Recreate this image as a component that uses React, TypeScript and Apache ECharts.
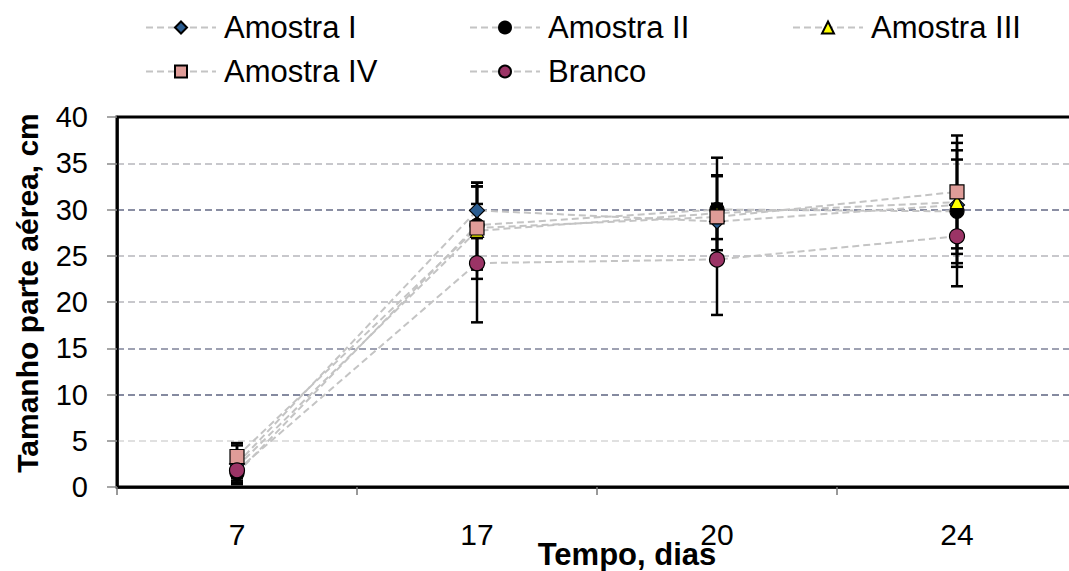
import React, { useEffect, useRef } from "react";
import * as echarts from "echarts";

const categories = ["7", "17", "20", "24"];
const seriesNames = ["Amostra I", "Amostra II", "Amostra III", "Amostra IV", "Branco"];
const amostraI = [2.5, 29.9, 28.7, 30.5];
const amostraII = [1.5, 28.3, 30.0, 29.8];
const amostraIII = [2.2, 27.7, 29.6, 30.8];
const amostraIV = [3.3, 28.0, 29.2, 31.9];
const branco = [1.8, 24.2, 24.6, 27.1];
const errI = [2.0, 3.0, 1.9, 6.7];
const errII = [1.2, 4.2, 5.6, 5.6];
const errIII = [1.5, 5.2, 4.0, 5.6];
const errIV = [1.45, 4.5, 4.5, 6.1];
const errBranco = [0.8, 6.4, 6.0, 5.4];
const yTicks = [0, 5, 10, 15, 20, 25, 30, 35, 40];

const FONT = "'Liberation Sans', Arial, sans-serif";

const values = [amostraI, amostraII, amostraIII, amostraIV, branco];
const errors = [errI, errII, errIII, errIV, errBranco];
const symbols = ["diamond", "circle", "triangle", "rect", "circle"];
const sizes = [15, 14, 13, 14, 15];
const fills = ["#2b5d91", "#000000", "#ffff00", "#df9c98", "#9b3466"];

export default function App() {
  const ref = useRef<HTMLDivElement>(null);
  useEffect(() => {
    if (!ref.current) return;
    const chart = echarts.init(ref.current, undefined, { renderer: "svg" });

    const errSeries = values.map((vals, si) => ({
      type: "custom",
      name: "err" + si,
      z: 1,
      silent: true,
      data: vals.map((v, i) => [i, v - errors[si][i], v + errors[si][i]]),
      encode: { x: 0, y: [1, 2] },
      renderItem: (params: any, api: any) => {
        const lo = api.coord([api.value(0), api.value(1)]);
        const hi = api.coord([api.value(0), api.value(2)]);
        const hw = 6;
        const st = { stroke: "#000", lineWidth: 2.5 };
        return {
          type: "group",
          children: [
            { type: "line", shape: { x1: lo[0], y1: lo[1], x2: hi[0], y2: hi[1] }, style: st },
            { type: "line", shape: { x1: hi[0] - hw, y1: hi[1], x2: hi[0] + hw, y2: hi[1] }, style: st },
            { type: "line", shape: { x1: lo[0] - hw, y1: lo[1], x2: lo[0] + hw, y2: lo[1] }, style: st },
          ],
        };
      },
    }));

    const lineSeries = values.map((vals, si) => ({
      type: "line",
      name: seriesNames[si],
      data: vals,
      z: 3,
      symbol: symbols[si],
      symbolSize: sizes[si],
      lineStyle: { color: "#c4c4c4", width: 2, type: [7, 4] },
      itemStyle: { color: fills[si], borderColor: "#000", borderWidth: 1.2 },
    }));

    const legendPos = [
      [140, 7],
      [464, 7],
      [787, 7],
      [140, 51],
      [464, 51],
    ];

    const gridColors = ["#000", "#e0e0e0", "#858aa0", "#9ea1b2", "#c8c8cc", "#c8c8cc", "#8a8ea3", "#c8c8cc", "#000"];

    chart.setOption({
      animation: false,
      backgroundColor: "#fff",
      grid: { left: 117, top: 117, bottom: 84, right: 0, show: true, borderColor: "#000", borderWidth: 3, backgroundColor: "transparent" },
      legend: legendPos.map((p, i) => ({
        left: p[0],
        top: p[1],
        data: [seriesNames[i]],
        itemWidth: 70,
        itemHeight: 15,
        selectedMode: false,
        textStyle: { fontSize: 31, color: "#000", fontFamily: FONT, padding: [0, 0, 0, 3] },
      })),
      xAxis: {
        type: "category",
        data: categories,
        boundaryGap: true,
        axisLine: { lineStyle: { color: "#000", width: 2.5 } },
        axisTick: { show: true, length: 8, alignWithLabel: false, lineStyle: { color: "#777", width: 1.5 } },
        axisLabel: { fontSize: 30, color: "#000", fontFamily: FONT, margin: 32 },
        splitLine: { show: false },
      },
      yAxis: {
        type: "value",
        min: 0,
        max: 40,
        interval: 5,
        axisLine: { show: true, lineStyle: { color: "#000", width: 2.5 } },
        axisTick: { show: true, length: 10, inside: false, lineStyle: { color: "#888", width: 1.5 } },
        axisLabel: { fontSize: 29, color: "#000", fontFamily: FONT, margin: 29, formatter: (v: number) => (yTicks.includes(v) ? String(v) : "") },
        splitLine: { show: true, lineStyle: { color: gridColors, width: 2, type: [7, 4] } },
      },
      graphic: [
        {
          type: "text",
          x: 627,
          y: 554,
          style: { text: "Tempo, dias", font: `bold 31px ${FONT}`, fill: "#000", align: "center", verticalAlign: "middle" },
        },
        {
          type: "text",
          x: 27,
          y: 293,
          rotation: Math.PI / 2,
          style: { text: "Tamanho parte aérea, cm", font: `bold 30px ${FONT}`, fill: "#000", align: "center", verticalAlign: "middle" },
        },
      ],
      series: [...errSeries, ...lineSeries],
    });
    return () => chart.dispose();
  }, []);
  return (
    <div style={{ position: "fixed", left: 0, top: 0, width: 1069, height: 571, overflow: "hidden", background: "#fff" }}>
      <div ref={ref} style={{ width: 1077, height: 571 }} />
    </div>
  );
}
